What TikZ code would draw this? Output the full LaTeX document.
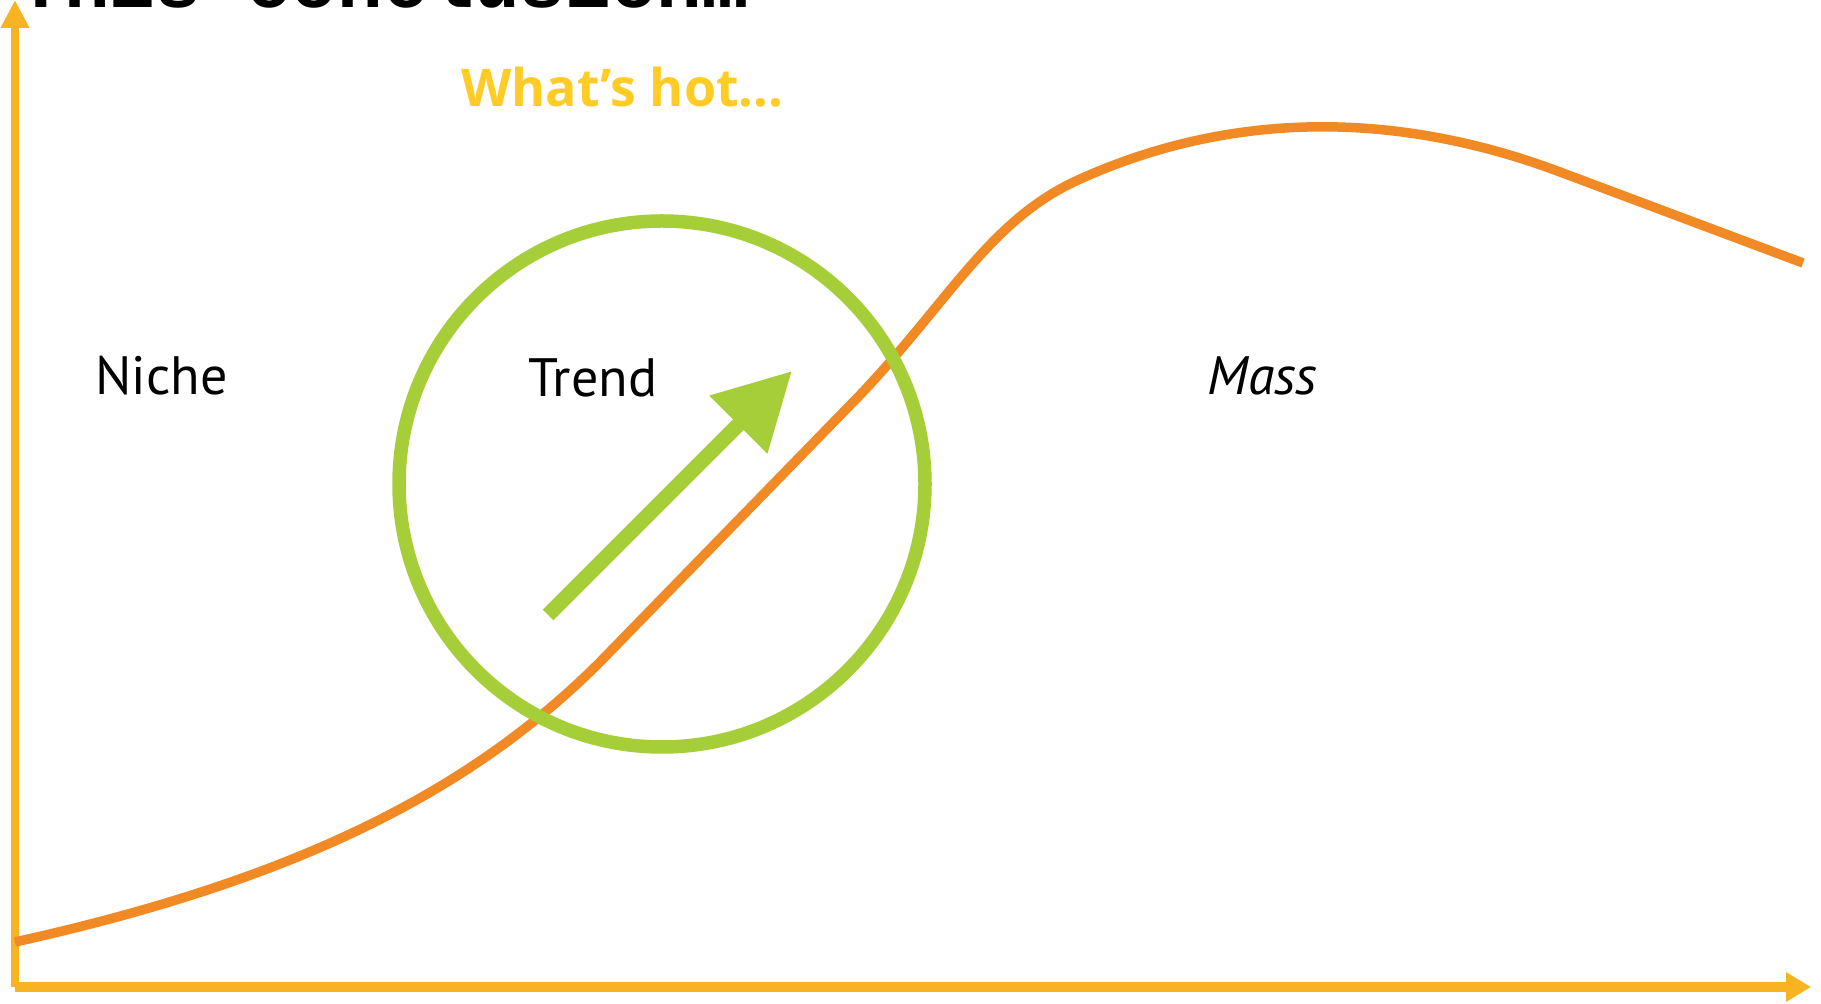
\documentclass[tikz,border=0pt]{standalone}
\usepackage{fontspec}
\setmainfont{PT Sans}
\newfontfamily\titlefont{Liberation Mono}
\newfontfamily\hotfont{Open Sans}
\usetikzlibrary{arrows.meta}
\definecolor{axisc}{HTML}{F8B323}
\definecolor{curvec}{HTML}{F18A24}
\definecolor{greenc}{HTML}{A6CE39}
\definecolor{hotc}{HTML}{FFCB25}
\begin{document}
\begin{tikzpicture}[x=0.5pt,y=-0.5pt,
  axisline/.style={draw=axisc, line width=3.8pt},
  zonelabel/.style={font=\fontsize{27}{30}\selectfont, text=black, inner sep=0pt, anchor=base west},
  hotlabel/.style={font=\fontsize{26}{30}\selectfont\hotfont\bfseries, text=hotc, inner sep=0pt, anchor=base west},
  titlelabel/.style={font=\fontsize{38}{42}\selectfont\titlefont\bfseries, text=black, inner sep=0pt, anchor=base west},
  curveline/.style={draw=curvec, line width=4.75pt},
  ringline/.style={draw=greenc, line width=6.75pt},
  risearrow/.style={draw=greenc, line width=7.5pt, -{Triangle[length=38pt,width=39pt,fill=greenc]}}]
\useasboundingbox (0,0) rectangle (1821,1004);
\fill[white] (0,0) rectangle (1821,1004);
% axes
\coordinate (O) at (15,987);
\coordinate (ytop) at (15,0);
\coordinate (xend) at (1811,987);
\draw[axisline, -{Triangle[length=14pt,width=13.5pt]}] (O) -- (ytop);
\draw[axisline, line width=4.6pt, -{Triangle[length=12.5pt,width=14pt]}] (O) -- (xend);
% orange curve
\coordinate (c0) at (15,942);
\coordinate (c1) at (600,662);
\coordinate (c2) at (860,395);
\coordinate (c3) at (1078,180);
\coordinate (c4) at (1560,172);
\coordinate (c5) at (1803,263);
\draw[curveline] (c0) .. controls (295,880) and (470,792) .. (c1)
  -- (c2) .. controls (950,300) and (990,220) .. (c3)
  .. controls (1230,111) and (1395,110) .. (c4)
  -- (c5);
% green circle
\coordinate (cc) at (662,484);
\draw[ringline] (cc) circle [radius=263];
% green arrow
\coordinate (as) at (548,615);
\coordinate (at) at (792,371);
\draw[risearrow] (as) -- (at);
% labels
\node[zonelabel] (niche) at (95,395) {Niche};
\node[zonelabel] (trend) at (528,397) {Trend};
\node[zonelabel, font=\fontsize{27}{30}\selectfont\itshape] (mass) at (1207,395) {Mass};
\node[hotlabel] (hot) at (461,107) {What’s hot...};
\node[titlelabel] (title) at (18,8) {This conclusion…};
\end{tikzpicture}
\end{document}
